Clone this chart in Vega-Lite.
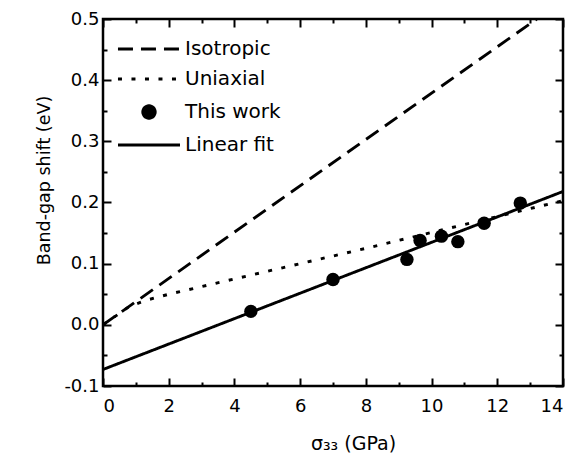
{
  "$schema": "https://vega.github.io/schema/vega-lite/v6.json",
  "width": 460,
  "height": 367,
  "autosize": "none",
  "padding": {"left": 103, "top": 19, "right": 24, "bottom": 78},
  "config": {
    "view": {"stroke": "black", "strokeWidth": 2.5},
    "font": "DejaVu Sans",
    "axis": {
      "domain": false,
      "grid": false,
      "labelFont": "DejaVu Sans",
      "labelFontSize": 18,
      "labelColor": "black",
      "tickColor": "black",
      "tickWidth": 2,
      "titleFont": "DejaVu Sans",
      "titleFontSize": 17.5,
      "titleFontWeight": "normal",
      "titleColor": "black"
    }
  },
  "layer": [
    {
      "data": {
        "values": [
          {"series": "Isotropic", "x": 0, "y": 0},
          {"series": "Isotropic", "x": 13.2, "y": 0.5},
          {"series": "Uniaxial", "x": 0, "y": 0},
          {"series": "Uniaxial", "x": 0.8, "y": 0.03},
          {"series": "Uniaxial", "x": 1.3, "y": 0.04},
          {"series": "Uniaxial", "x": 2, "y": 0.05},
          {"series": "Uniaxial", "x": 4, "y": 0.075},
          {"series": "Uniaxial", "x": 6, "y": 0.1},
          {"series": "Uniaxial", "x": 8, "y": 0.125},
          {"series": "Uniaxial", "x": 10, "y": 0.151},
          {"series": "Uniaxial", "x": 12, "y": 0.177},
          {"series": "Uniaxial", "x": 14, "y": 0.203},
          {"series": "Linear fit", "x": 0, "y": -0.073},
          {"series": "Linear fit", "x": 14, "y": 0.218}
        ]
      },
      "mark": {"type": "line", "stroke": "black", "strokeWidth": 2.9, "strokeCap": "butt", "clip": true},
      "encoding": {
        "x": {
          "field": "x",
          "type": "quantitative",
          "scale": {"domain": [0, 14], "nice": false, "zero": false},
          "axis": {
            "orient": "bottom",
            "values": [0, 1, 2, 3, 4, 5, 6, 7, 8, 9, 10, 11, 12, 13, 14],
            "format": "d",
            "labelExpr": "datum.value % 2 === 0 ? datum.label : ''",
            "tickSize": {"condition": {"test": "datum.value % 2 === 0", "value": -8}, "value": -4},
            "labelPadding": 19,
            "title": "σ₃₃ (GPa)",
            "titleFontSize": 19,
            "titleX": 250,
            "titleY": 63,
            "titleAlign": "center",
            "titleBaseline": "alphabetic"
          }
        },
        "y": {
          "field": "y",
          "type": "quantitative",
          "scale": {"domain": [-0.1, 0.5], "nice": false, "zero": false},
          "axis": {
            "orient": "left",
            "values": [-0.1, -0.05, 0, 0.05, 0.1, 0.15, 0.2, 0.25, 0.3, 0.35, 0.4, 0.45, 0.5],
            "labelExpr": "abs(round(datum.value * 20)) % 2 === 0 ? (datum.value < -0.001 ? '-' : '') + format(abs(datum.value), '.1f') : ''",
            "tickSize": {"condition": {"test": "abs(round(datum.value * 20)) % 2 === 0", "value": -8}, "value": -4},
            "labelPadding": 12,
            "title": "Band-gap shift (eV)",
            "titleX": -54,
            "titleY": 161,
            "titleAngle": -90,
            "titleAlign": "center",
            "titleBaseline": "alphabetic"
          }
        },
        "strokeDash": {
          "field": "series",
          "type": "nominal",
          "scale": {
            "domain": ["Isotropic", "Uniaxial", "This work", "Linear fit"],
            "range": [[15, 8], [4, 9.5], [1, 0], [1, 0]]
          },
          "legend": {
            "orient": "none",
            "legendX": 36,
            "legendY": 20,
            "title": null,
            "padding": 0,
            "symbolSize": 154,
            "symbolStrokeWidth": 2.9,
            "symbolStrokeColor": "black",
            "labelFont": "DejaVu Sans",
            "labelFontSize": 20,
            "labelColor": "black",
            "labelOffset": 26,
            "rowPadding": 10,
            "encode": {
              "symbols": {
                "update": {
                  "shape": {"signal": "datum.label === 'This work' ? 'circle' : 'M-5,0H5'"},
                  "fill": {"signal": "datum.label === 'This work' ? 'black' : 'transparent'"},
                  "stroke": {"value": "black"},
                  "strokeWidth": {"value": 2.9}
                }
              }
            }
          }
        }
      }
    },
    {
      "data": {
        "values": [
          {"x": 4.5, "y": 0.022},
          {"x": 7.0, "y": 0.074},
          {"x": 9.25, "y": 0.107},
          {"x": 9.65, "y": 0.138},
          {"x": 10.3, "y": 0.145},
          {"x": 10.8, "y": 0.136},
          {"x": 11.6, "y": 0.166},
          {"x": 12.7, "y": 0.199}
        ]
      },
      "mark": {"type": "point", "shape": "circle", "filled": true, "size": 180, "color": "black", "opacity": 1},
      "encoding": {
        "x": {
          "field": "x",
          "type": "quantitative",
          "axis": {
            "orient": "top",
            "values": [0, 1, 2, 3, 4, 5, 6, 7, 8, 9, 10, 11, 12, 13, 14],
            "labels": false,
            "title": null,
            "tickSize": {"condition": {"test": "datum.value % 2 === 0", "value": -8}, "value": -4}
          }
        },
        "y": {
          "field": "y",
          "type": "quantitative",
          "axis": {
            "orient": "right",
            "values": [-0.1, -0.05, 0, 0.05, 0.1, 0.15, 0.2, 0.25, 0.3, 0.35, 0.4, 0.45, 0.5],
            "labels": false,
            "title": null,
            "tickSize": {"condition": {"test": "abs(round(datum.value * 20)) % 2 === 0", "value": -8}, "value": -4}
          }
        }
      }
    }
  ],
  "resolve": {"axis": {"x": "independent", "y": "independent"}}
}
